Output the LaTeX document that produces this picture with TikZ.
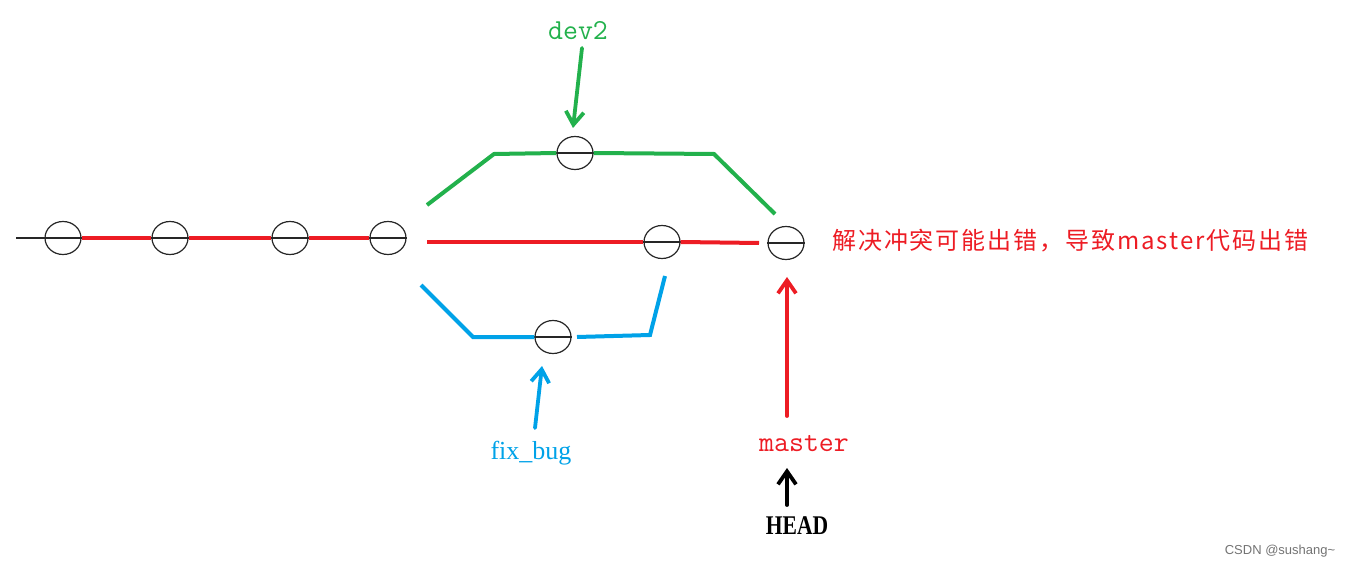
\documentclass[tikz,border=0pt]{standalone}
\usepackage{fontspec}
\setmainfont{Liberation Serif}
\newfontfamily\cjkf{Noto Sans CJK SC}[LetterSpace=8]
\newfontfamily\sansf{Liberation Sans}
\usetikzlibrary{arrows.meta,shapes.geometric}
\definecolor{gitred}{RGB}{237,28,36}
\definecolor{gitgreen}{RGB}{34,177,76}
\definecolor{gitblue}{RGB}{0,162,232}
\begin{document}
\begin{tikzpicture}[x=1pt,y=-1pt,
  commit/.style={draw=black!85,ellipse,line width=1.2pt,minimum width=36pt,minimum height=33pt,inner sep=0pt},
  diam/.style={draw=black!85,line width=1.4pt},
  redline/.style={draw=gitred,line width=4pt},
  greenline/.style={draw=gitgreen,line width=4pt,line join=miter},
  blueline/.style={draw=gitblue,line width=4pt},
  ptr/.style={-{Straight Barb[length=13pt,width=18pt]},line width=3.8pt,line cap=round},
  lbl/.style={inner sep=0pt,anchor=center}]
\useasboundingbox (0,0) rectangle (1346,569);
% commits
\node[commit] (c1) at (63,238) {};
\node[commit] (c2) at (170,238) {};
\node[commit] (c3) at (290,238) {};
\node[commit] (c4) at (388,238) {};
\node[commit] (d1) at (575,153) {};
\node[commit] (c5) at (662,242) {};
\node[commit] (c6) at (786,243) {};
\node[commit] (f1) at (553,337) {};
% black lead line and diameters
\coordinate (start) at (16,238);
\draw[diam] (start) -- (c1.west);
\foreach \c in {c1,c2,c3,c4,d1,c5,c6,f1} {\draw[diam] (\c.west) -- (\c.east);}
% master line
\draw[redline] (c1.east) -- (c2.west);
\draw[redline] (c2.east) -- (c3.west);
\draw[redline] (c3.east) -- (c4.west);
\coordinate (r1) at (427,242);
\coordinate (r2) at (643,242);
\coordinate (r3) at (759,243);
\draw[redline] (r1) -- (r2);
\draw[redline] (c5.east) -- (r3);
% dev2 branch
\coordinate (g0) at (427,205);
\coordinate (g1) at (494,154);
\coordinate (g2) at (714,154);
\coordinate (g3) at (775,214);
\draw[greenline] (g0) -- (g1) -- (d1.west);
\draw[greenline] (d1.east) -- (g2) -- (g3);
% fix_bug branch
\coordinate (b0) at (421,285);
\coordinate (b1) at (473,337);
\coordinate (b2) at (650,335);
\coordinate (b3) at (665,276);
\coordinate (b4) at (577,337);
\draw[blueline] (b0) -- (b1) -- (f1.west);
\draw[blueline] (b4) -- (b2) -- (b3);
% labels
\node[lbl,text=gitgreen,font=\ttfamily\fontsize{29}{30}\selectfont] (dev2) at (578,31) {dev2};
\node[lbl,text=gitblue,font=\fontsize{26}{28}\selectfont] (fix) at (531,453) {fix\_bug};
\node[lbl,text=gitred,font=\ttfamily\fontsize{29}{30}\selectfont] (master) at (804,444) {master};
\node[lbl,text=black,font=\bfseries\fontsize{27}{30}\selectfont] (head) at (797,526) {\scalebox{0.8}[1]{HEAD}};
\node[lbl,anchor=west,text=gitred,font=\cjkf\fontsize{24}{28}\selectfont] (note) at (832,241) {解决冲突可能出错，导致master代码出错};
\node[lbl,text=black!55,font=\sansf\fontsize{13}{15}\selectfont] (wm) at (1280,551) {CSDN @sushang\textasciitilde};
% pointer arrows
\coordinate (dt) at (582,48);
\coordinate (dh) at (573,128);
\draw[ptr,gitgreen] (dt) -- (dh);
\coordinate (ft) at (535,428);
\coordinate (fh) at (542,366);
\draw[ptr,gitblue] (ft) -- (fh);
\coordinate (mt) at (787,416);
\coordinate (mh) at (787,277);
\draw[ptr,gitred] (mt) -- (mh);
\coordinate (ht) at (787,505);
\coordinate (hh) at (787,468);
\draw[ptr,black] (ht) -- (hh);
\end{tikzpicture}
\end{document}
